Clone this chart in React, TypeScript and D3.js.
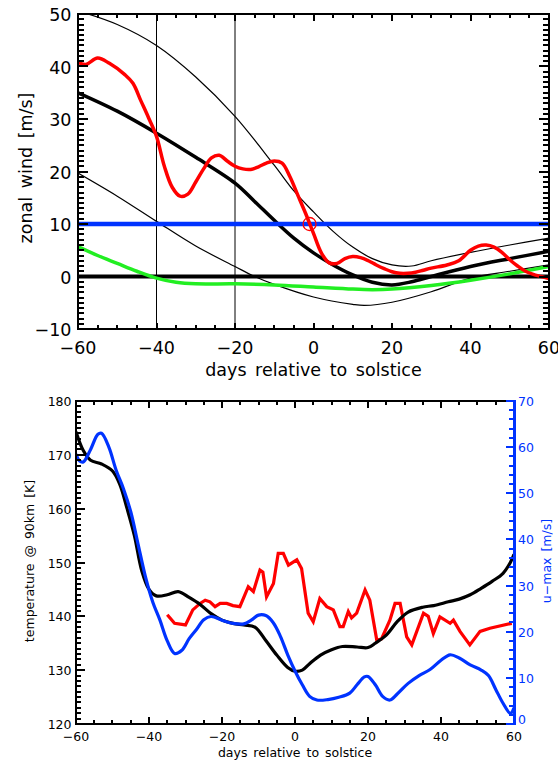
import React from "react";
import * as d3 from "d3";

const W = 558, H = 761;
const FONT = "DejaVu Sans, sans-serif";
const RED = "#ff0000", GREEN = "#22ee22", BLUE = "#0033ff";

// top panel: zonal wind vs days
const dayTicks = [-60, -40, -20, 0, 20, 40, 60];
const windTicks = [-10, 0, 10, 20, 30, 40, 50];
const windRefLines = [-40, -20];
const windUpper = [[-60, 50.6], [-50, 48], [-40, 44], [-30, 38], [-20, 30.5], [-10, 21.2], [-5, 16.3], [0, 12.3], [5, 8.6], [10, 5.6], [15, 3.4], [20, 2.2], [25, 2], [30, 3], [40, 4.6], [50, 6], [60, 7.3]];
const windMean = [[-60, 35], [-50, 31.5], [-40, 27.3], [-30, 22.7], [-20, 17.8], [-15, 14.3], [-10, 10.7], [-5, 7.3], [0, 4.5], [5, 2.2], [10, 0.3], [15, -1.1], [20, -1.6], [25, -1], [30, 0], [40, 1.9], [50, 3.4], [60, 4.8]];
const windLower = [[-60, 19.7], [-50, 15.3], [-40, 10.5], [-30, 5.8], [-20, 1.9], [-15, 0], [-10, -1.5], [0, -3.9], [10, -5.3], [13, -5.5], [20, -4.9], [30, -2.9], [40, -0.3], [50, 1.0], [60, 2.2]];
const windObs = [[-60, 40.8], [-58, 40.4], [-55, 41.6], [-52, 40.6], [-48, 38.4], [-46, 36.8], [-44, 33.5], [-42, 30.2], [-40, 26.7], [-38, 21], [-36, 17], [-34, 15.3], [-32, 15.7], [-30, 18], [-28, 20.5], [-26, 22.6], [-24, 23.1], [-22, 22], [-20, 21], [-18, 20.5], [-16, 20.4], [-14, 20.9], [-12, 21.6], [-10, 22], [-8, 21.6], [-6, 19], [-4, 15.5], [-2, 12], [0, 8.2], [2, 4.5], [4, 2.6], [6, 2.5], [8, 3.4], [10, 3.8], [12, 3.6], [14, 3], [16, 2.2], [18, 1.5], [20, 0.9], [22, 0.6], [24, 0.6], [26, 0.8], [28, 1.2], [30, 1.6], [34, 2.2], [37, 3.0], [40, 5.0], [42, 5.8], [44, 6.0], [46, 5.6], [48, 4.6], [50, 3.2], [52, 2.0], [54, 1.0], [56, 0.4], [58, 0], [60, -0.4]];
const windGreen = [[-60, 5.7], [-55, 4], [-50, 2.5], [-45, 1], [-40, -0.3], [-35, -1.1], [-30, -1.4], [-20, -1.4], [-10, -1.6], [0, -2], [10, -2.4], [15, -2.5], [20, -2.4], [30, -1.7], [40, -0.7], [50, 0.5], [60, 1.9]];
const windThreshold = 10;
const windCross = [-1, 10];

// bottom panel: temperature and u-max
const tempTicks = [120, 130, 140, 150, 160, 170, 180];
const umaxTicks = [0, 10, 20, 30, 40, 50, 60, 70];
const tempModel = [[-60, 174.3], [-58, 170.8], [-56, 169], [-53, 168.3], [-50, 167], [-48, 164.5], [-46, 160], [-44, 155], [-42, 148.5], [-40, 145], [-38, 143.8], [-35, 144], [-32, 144.6], [-29, 143.5], [-26, 142.2], [-23, 140.5], [-20, 139.3], [-17, 138.7], [-14, 138.4], [-11, 138], [-8, 135.5], [-5, 132.8], [-2, 130.5], [0, 129.8], [2, 130], [4, 131.2], [7, 132.8], [10, 133.8], [13, 134.4], [17, 134.3], [20, 134.2], [22, 135], [25, 136.5], [28, 139], [31, 140.8], [35, 141.7], [38, 142], [42, 142.7], [45, 143.2], [48, 144], [51, 145.2], [54, 146.5], [57, 148], [59, 150], [60, 151.5]];
const umax = [[-60, 58.5], [-59, 57], [-58, 56.8], [-56, 59.5], [-54, 62.8], [-53, 63], [-51, 60], [-49, 55], [-47, 51], [-45, 46], [-43, 39], [-41, 32], [-39, 26.5], [-37, 22.5], [-35, 18], [-33, 15.3], [-31, 16], [-29, 18.5], [-27, 20.5], [-25, 22.6], [-23, 23.3], [-20, 22.5], [-17, 21.8], [-14, 21.7], [-12, 22.5], [-10, 23.6], [-8, 23.5], [-6, 22], [-4, 19], [-2, 15], [0, 11.5], [2, 8.5], [4, 6], [6, 5.2], [9, 5.3], [12, 5.8], [15, 6.7], [17, 8.5], [19, 10.2], [20, 10.3], [22, 8.5], [24, 6], [26, 5.2], [28, 6.5], [31, 8.8], [34, 10.5], [37, 11.8], [40, 13.8], [42.5, 15], [45, 14.3], [48, 12.8], [51, 11.7], [53, 10.5], [55, 7.5], [57, 4.5], [59, 2.3], [60, 3.5]];
const tempObs = [[-35, 140.3], [-33, 138.7], [-30, 138.4], [-28, 141.2], [-26, 142.4], [-24.6, 143], [-23.3, 142.7], [-21.9, 141.8], [-20.5, 142.4], [-18.7, 142.4], [-17, 142], [-15.1, 141.8], [-12.8, 145.5], [-11.4, 144.6], [-9.6, 148.6], [-8.8, 148.2], [-7.8, 143.6], [-5.9, 146.1], [-4.6, 151.7], [-3.2, 151.7], [-1.8, 149.5], [0.5, 150.5], [1.8, 148.9], [3.6, 140.6], [5, 139], [6.8, 143.3], [8.7, 141.8], [10.5, 141.2], [12.3, 138.1], [13.2, 138.1], [14.6, 140.9], [15.5, 139.7], [16.9, 140.6], [19.2, 144.9], [20.5, 143], [22.4, 135.6], [23.7, 135.8], [26, 139.3], [27.4, 142.4], [28.8, 142.4], [30.6, 136.2], [32, 134.7], [35.2, 140.6], [36.5, 140], [37.9, 136.8], [39.7, 139.9], [42.5, 138.7], [43.4, 139.3], [45.2, 137.2], [47.9, 134.7], [50.7, 137.2], [53.4, 137.8], [59.4, 138.7]];

const fmt = (v: number) => (v < 0 ? "\u2212" + Math.abs(v) : String(v));

type Scale = d3.ScaleLinear<number, number>;

// IDL style ticks: vertical tick marks along a horizontal edge
function hTicks(s: Scale, edgeY: number, dir: number, major: number[], step: number, len: number, key: string) {
  const [d0, d1] = s.domain();
  return d3.range(d0, d1 + 1e-9, step).map((v, i) => {
    const l = major.includes(v) ? len : len * 0.6;
    const p = Math.round(s(v));
    return <line key={key + i} x1={p} x2={p} y1={edgeY} y2={edgeY + dir * l} />;
  });
}

// horizontal tick marks along a vertical edge
function vTicks(s: Scale, edgeX: number, dir: number, major: number[], step: number, len: number, key: string) {
  const [d0, d1] = s.domain();
  return d3.range(d0, d1 + 1e-9, step).map((v, i) => {
    const l = major.includes(v) ? len : len * 0.6;
    const p = Math.round(s(v));
    return <line key={key + i} x1={edgeX} x2={edgeX + dir * l} y1={p} y2={p} />;
  });
}

export default function App() {
  // top panel scales
  const x1 = d3.scaleLinear().domain([-60, 60]).range([78, 549]);
  const y1 = d3.scaleLinear().domain([-10, 50]).range([329, 14]);
  // bottom panel scales
  const x2 = d3.scaleLinear().domain([-60, 60]).range([76, 514]);
  const y2 = d3.scaleLinear().domain([120, 180]).range([724, 401]);
  const u2 = d3.scaleLinear().domain([0, 70]).range([724, 401]);

  const smooth = d3.curveCatmullRom.alpha(0.5);
  const lineTop = d3.line<number[]>().x(d => x1(d[0])).y(d => y1(d[1])).curve(smooth);
  const lineT = d3.line<number[]>().x(d => x2(d[0])).y(d => y2(d[1])).curve(smooth);
  const lineTraw = d3.line<number[]>().x(d => x2(d[0])).y(d => y2(d[1]));
  const lineU = d3.line<number[]>().x(d => x2(d[0])).y(d => u2(d[1])).curve(smooth);

  return (
    <svg width={W} height={H} style={{ position: "absolute", left: 0, top: 0, background: "#fff" }} fontFamily={FONT}>
      <defs>
        <clipPath id="c1"><rect x={78} y={14} width={471} height={315} /></clipPath>
        <clipPath id="c2"><rect x={76} y={401} width={438} height={323} /></clipPath>
      </defs>

      {/* ---------- top panel ---------- */}
      <g clipPath="url(#c1)" fill="none">
        {windRefLines.map(d => <line key={d} x1={x1(d)} x2={x1(d)} y1={14} y2={329} stroke="#000" strokeWidth={1} />)}
        <path d={lineTop(windUpper)!} stroke="#000" strokeWidth={1.2} />
        <path d={lineTop(windLower)!} stroke="#000" strokeWidth={1.2} />
        <line x1={78} x2={549} y1={y1(0)} y2={y1(0)} stroke="#000" strokeWidth={4} />
        <path d={lineTop(windGreen)!} stroke={GREEN} strokeWidth={3.5} />
        <path d={lineTop(windMean)!} stroke="#000" strokeWidth={3.5} />
        <line x1={78} x2={549} y1={y1(windThreshold)} y2={y1(windThreshold)} stroke={BLUE} strokeWidth={4.7} />
        <path d={lineTop(windObs)!} stroke={RED} strokeWidth={3.5} />
        <circle cx={x1(windCross[0])} cy={y1(windCross[1])} r={6.5} stroke={RED} strokeWidth={1.3} />
      </g>
      <g stroke="#000" strokeWidth={2} shapeRendering="crispEdges">
        <rect x={78} y={14} width={471} height={315} fill="none" />
        {hTicks(x1, 329, -1, dayTicks, 5, 6.5, "tb")}
        {hTicks(x1, 14, 1, dayTicks, 5, 6.5, "tt")}
        {vTicks(y1, 78, 1, windTicks, 1, 10, "tl")}
        {vTicks(y1, 549, -1, windTicks, 1, 10, "tr")}
      </g>
      <g fontSize={17.5} fill="#000">
        {dayTicks.map(d => <text key={d} x={x1(d)} y={354} textAnchor="middle">{fmt(d)}</text>)}
        {windTicks.map(v => <text key={v} x={71.5} y={y1(v) + 7} textAnchor="end">{fmt(v)}</text>)}
        <text x={313.5} y={376} textAnchor="middle" wordSpacing={3}>days relative to solstice</text>
        <text transform="translate(32,168) rotate(-90)" textAnchor="middle" wordSpacing={3}>zonal wind [m/s]</text>
      </g>

      {/* ---------- bottom panel ---------- */}
      <g clipPath="url(#c2)" fill="none" strokeWidth={3.2}>
        <path d={lineTraw(tempObs)!} stroke={RED} strokeLinejoin="miter" />
        <path d={lineT(tempModel)!} stroke="#000" />
        <path d={lineU(umax)!} stroke={BLUE} />
      </g>
      <g stroke="#000" strokeWidth={2} shapeRendering="crispEdges">
        <line x1={76} x2={76} y1={401} y2={724} />
        <line x1={75} x2={514} y1={401} y2={401} />
        <line x1={75} x2={514} y1={724} y2={724} />
        {hTicks(x2, 724, -1, dayTicks, 5, 6.7, "bb")}
        {hTicks(x2, 401, 1, dayTicks, 5, 6.7, "bt")}
        {vTicks(y2, 76, 1, tempTicks, 1, 8.5, "bl")}
      </g>
      <g stroke={BLUE} strokeWidth={2} shapeRendering="crispEdges">
        <line x1={514} x2={514} y1={400} y2={725} strokeWidth={3} />
        {vTicks(u2, 514, -1, umaxTicks, 2, 8.5, "br")}
      </g>
      <g fontSize={12.5} fill="#000">
        {dayTicks.map(d => <text key={d} x={x2(d)} y={741} textAnchor="middle">{fmt(d)}</text>)}
        {tempTicks.map(v => <text key={v} x={71.5} y={y2(v) + 5} textAnchor="end">{v}</text>)}
        <text x={295} y={757} textAnchor="middle" wordSpacing={2}>days relative to solstice</text>
        <text transform="translate(34,561) rotate(-90)" textAnchor="middle" wordSpacing={2}>temperature @ 90km [K]</text>
      </g>
      <g fontSize={12.5} fill={BLUE}>
        {umaxTicks.map(v => <text key={v} x={518} y={Math.min(u2(v) + 5, 724)} textAnchor="start">{v}</text>)}
        <text transform="translate(551,561) rotate(-90)" textAnchor="middle" wordSpacing={2}>u{"\u2212"}max [m/s]</text>
      </g>
    </svg>
  );
}
